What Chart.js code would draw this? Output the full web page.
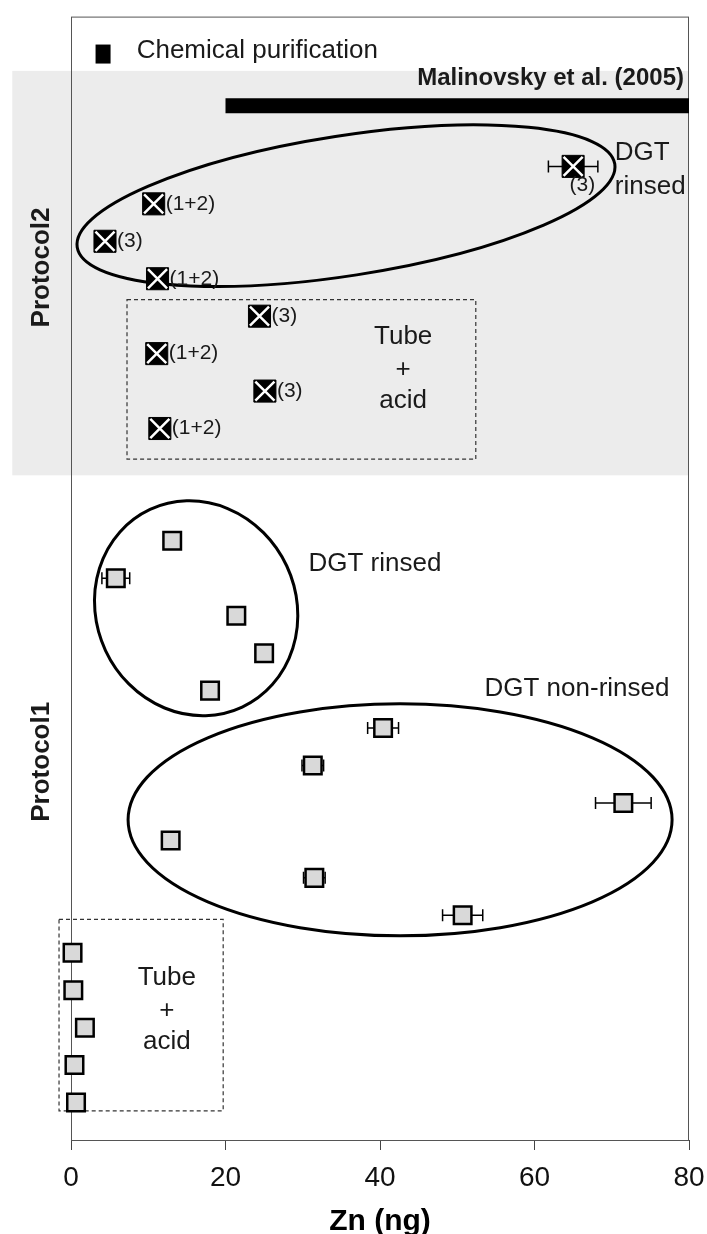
<!DOCTYPE html>
<html>
<head>
<meta charset="utf-8">
<script src="https://cdn.jsdelivr.net/npm/chart.js@4.4.1/dist/chart.umd.min.js"></script>
<style>
  html, body { margin: 0; padding: 0; background: #fff; }
</style>
</head>
<body>
<canvas id="zn_chart" width="707" height="1234"></canvas>
<script>
// x axis ticks (Zn, ng)
const xTicks = [0, 20, 40, 60, 80];

// Protocol2 - crossed markers, rows counted from the top
const p2Rows = [0, 1, 2, 3, 4, 5, 6, 7];
const p2Zn = [65.0, 10.7, 4.4, 11.2, 24.4, 11.1, 25.1, 11.5];
const p2Err = [3.2, 0, 0, 0, 0, 0, 0, 0];
const p2Notes = ['(3)', '(1+2)', '(3)', '(1+2)', '(3)', '(1+2)', '(3)', '(1+2)'];

// Protocol1 - grey squares
const p1Rows = [10, 11, 12, 13, 14, 15, 16, 17, 18, 19, 20, 21, 22, 23, 24, 25];
const p1Zn = [13.1, 5.8, 21.4, 25.0, 18.0, 40.4, 31.3, 71.5, 12.9, 31.5, 50.7, 0.2, 0.3, 1.8, 0.45, 0.65];
const p1Err = [0, 1.8, 0, 0, 0, 2.0, 1.4, 3.6, 0, 1.4, 2.6, 0, 0, 0, 0, 0];

// Malinovsky et al. (2005) range
const refRange = [20, 80];
const refRow = -1.62;

const FONT = "'Liberation Sans', Arial, sans-serif";
const INK = '#1a1a1a';

function pts(xs, ys) {
  return xs.map((v, i) => ({x: v, y: ys[i]}));
}

// decorations: band, ellipses, dashed boxes, texts, error bars
const decor = {
  id: 'decor',
  beforeDatasetsDraw(chart) {
    const ctx = chart.ctx;
    const xs = chart.scales.x, ys = chart.scales.y;
    const X = v => xs.getPixelForValue(v), Y = v => ys.getPixelForValue(v);
    const ca = chart.chartArea;
    ctx.save();

    // grey band behind Protocol2
    ctx.fillStyle = '#ececec';
    ctx.fillRect(X(-7.6), Y(-2.55), X(80) - X(-7.6), Y(8.25) - Y(-2.55));

    // frame
    ctx.strokeStyle = '#555';
    ctx.lineWidth = 1;
    ctx.strokeRect(ca.left + 0.5, ca.top + 0.5, ca.right - ca.left - 1, ca.bottom - ca.top);

    // dashed boxes
    ctx.strokeStyle = '#333';
    ctx.lineWidth = 1.2;
    ctx.setLineDash([4, 3]);
    [[7.25, 52.4, 3.56, 7.82], [-1.55, 19.7, 20.11, 25.22]].forEach(b => {
      ctx.strokeRect(X(b[0]), Y(b[2]), X(b[1]) - X(b[0]), Y(b[3]) - Y(b[2]));
    });
    ctx.setLineDash([]);

    // ellipses
    ctx.strokeStyle = '#000';
    ctx.lineWidth = 3;
    [[35.6, 1.05, 272, 70, -8.8], [16.2, 11.8, 100, 109, -25], [42.6, 17.45, 272, 116, 0]].forEach(e => {
      ctx.beginPath();
      ctx.ellipse(X(e[0]), Y(e[1]), e[2], e[3], e[4] * Math.PI / 180, 0, Math.PI * 2);
      ctx.stroke();
    });

    // error bars (behind markers)
    ctx.strokeStyle = '#000';
    ctx.lineWidth = 1.5;
    const bars = (xv, yv, ev) => {
      xv.forEach((v, i) => {
        if (!ev[i]) return;
        const y = Y(yv[i]), a = X(v - ev[i]), b = X(v + ev[i]);
        ctx.beginPath();
        ctx.moveTo(a, y); ctx.lineTo(b, y);
        ctx.moveTo(a, y - 6); ctx.lineTo(a, y + 6);
        ctx.moveTo(b, y - 6); ctx.lineTo(b, y + 6);
        ctx.stroke();
      });
    };
    bars(p2Zn, p2Rows, p2Err);
    bars(p1Zn, p1Rows, p1Err);
    ctx.restore();
  },
  afterDatasetsDraw(chart) {
    const ctx = chart.ctx;
    const xs = chart.scales.x, ys = chart.scales.y;
    const X = v => xs.getPixelForValue(v), Y = v => ys.getPixelForValue(v);
    ctx.save();
    ctx.fillStyle = INK;
    ctx.textBaseline = 'middle';

    // notes next to Protocol2 markers
    ctx.font = '21px ' + FONT;
    p2Zn.forEach((v, i) => {
      if (i === 0) {
        ctx.textAlign = 'right';
        ctx.fillText(p2Notes[i], X(v) + 22, Y(p2Rows[i]) + 19);
      } else {
        ctx.textAlign = 'left';
        ctx.fillText(p2Notes[i], X(v) + 12, Y(p2Rows[i]));
      }
    });

    // group labels
    ctx.font = '26px ' + FONT;
    const texts = [
      ['DGT', 70.4, -0.35, 'left'], ['rinsed', 70.4, 0.55, 'left'],
      ['Tube', 43.0, 4.54], ['+', 43.0, 5.42], ['acid', 43.0, 6.27],
      ['DGT rinsed', 39.35, 10.61], ['DGT non-rinsed', 65.5, 13.94],
      ['Tube', 12.4, 21.66], ['+', 12.4, 22.56], ['acid', 12.4, 23.39]
    ];
    texts.forEach(t => {
      ctx.textAlign = t[3] || 'center';
      ctx.fillText(t[0], X(t[1]), Y(t[2]));
    });

    // legend entry
    ctx.fillStyle = '#000';
    ctx.fillRect(X(4.15) - 7.5, Y(-3.0) - 9.5, 15, 19);
    ctx.fillStyle = INK;
    ctx.textAlign = 'left';
    ctx.fillText('Chemical purification', X(8.5), Y(-3.09));

    // reference label
    ctx.font = 'bold 24px ' + FONT;
    ctx.textAlign = 'right';
    ctx.fillText('Malinovsky et al. (2005)', X(79.35), Y(-2.35));

    // protocol labels
    ctx.font = 'bold 26px ' + FONT;
    ctx.textAlign = 'center';
    [['Protocol2', 2.7], ['Protocol1', 15.9]].forEach(p => {
      ctx.save();
      ctx.translate(X(-3.75), Y(p[1]));
      ctx.rotate(-Math.PI / 2);
      ctx.fillText(p[0], 0, 0);
      ctx.restore();
    });
    ctx.restore();
  }
};

const ctx = document.getElementById('zn_chart').getContext('2d');
const myChart = new Chart(ctx, {
  type: 'scatter',
  data: {
    datasets: [
      {
        label: 'Malinovsky et al. (2005)',
        type: 'line',
        data: pts(refRange, [refRow, refRow]),
        borderColor: '#000',
        borderWidth: 15,
        borderCapStyle: 'butt',
        pointRadius: 0,
        clip: false,
        order: 3
      },
      {
        label: 'Protocol2 cross',
        data: pts(p2Zn, p2Rows),
        pointStyle: 'crossRot',
        pointRadius: 13.5,
        pointBorderColor: '#fff',
        pointBorderWidth: 2.5,
        clip: false,
        order: 0
      },
      {
        label: 'Protocol2',
        data: pts(p2Zn, p2Rows),
        pointStyle: 'rect',
        pointRadius: 15.6,
        pointBackgroundColor: '#000',
        pointBorderColor: '#000',
        pointBorderWidth: 1,
        clip: false,
        order: 1
      },
      {
        label: 'Protocol1',
        data: pts(p1Zn, p1Rows),
        pointStyle: 'rect',
        pointRadius: 12.4,
        pointBackgroundColor: '#d9d9d9',
        pointBorderColor: '#000',
        pointBorderWidth: 2.5,
        clip: false,
        order: 2
      }
    ]
  },
  options: {
    responsive: false,
    animation: false,
    layout: { padding: { left: 71, right: 18, top: 13, bottom: 0 } },
    plugins: {
      legend: { display: false },
      tooltip: { enabled: false }
    },
    scales: {
      x: {
        type: 'linear',
        min: xTicks[0],
        max: xTicks[xTicks.length - 1],
        afterBuildTicks: s => { s.ticks = xTicks.map(v => ({value: v})); },
        afterFit: s => { s.height = 94; s.paddingLeft = 0; s.paddingRight = 0; },
        ticks: {
          padding: 11,
          color: '#111',
          font: { family: FONT, size: 28 }
        },
        grid: {
          drawOnChartArea: false,
          drawTicks: true,
          tickLength: 10,
          color: '#444'
        },
        border: { display: true, color: '#444' },
        title: {
          display: true,
          text: 'Zn (ng)',
          color: '#000',
          padding: { top: 0, bottom: -3 },
          font: { family: FONT, size: 30, weight: 'bold', lineHeight: 1 }
        }
      },
      y: {
        type: 'linear',
        display: false,
        reverse: true,
        min: -4,
        max: 26
      }
    }
  },
  plugins: [decor]
});
</script>
</body>
</html>
